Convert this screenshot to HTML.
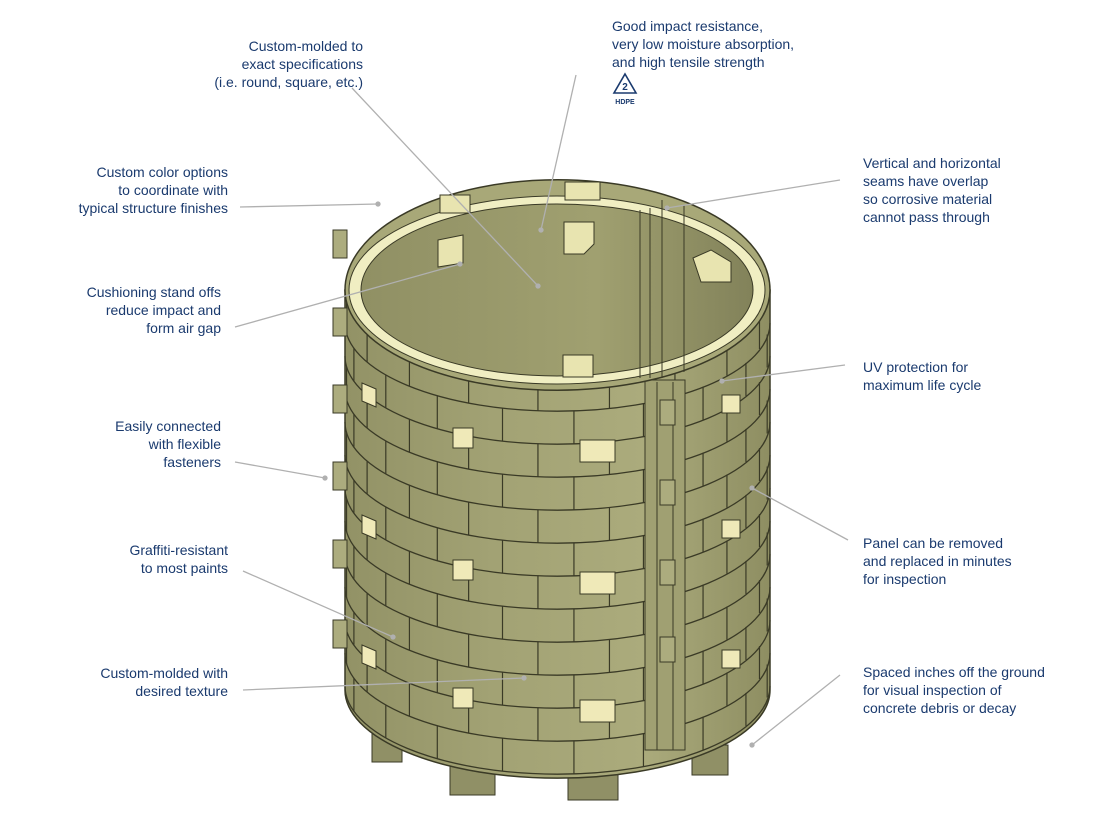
<!DOCTYPE html>
<html><head><meta charset="utf-8"><style>
html,body{margin:0;padding:0;background:#fff;}
body{width:1100px;height:814px;position:relative;overflow:hidden;font-family:"Liberation Sans",sans-serif;}
.t{position:absolute;color:#1a3a6e;font-size:14px;line-height:18px;white-space:nowrap;}
.r{text-align:right;}
svg{position:absolute;left:0;top:0;}
</style></head><body>
<svg id="s" width="1100" height="814" viewBox="0 0 1100 814">
<defs>
<linearGradient id="body" x1="0" x2="1" y1="0" y2="0">
<stop offset="0" stop-color="#929266"/><stop offset="0.35" stop-color="#a2a274"/><stop offset="0.7" stop-color="#abab7c"/><stop offset="1" stop-color="#8e8e62"/>
</linearGradient>
<linearGradient id="inner" x1="0" x2="1" y1="0" y2="0">
<stop offset="0" stop-color="#909064"/><stop offset="0.6" stop-color="#a0a070"/><stop offset="1" stop-color="#82825a"/>
</linearGradient>
</defs>
<g id="feet" fill="#909066" stroke="#3a3a26" stroke-width="1">
<rect x="372" y="712" width="30" height="50"/><rect x="450" y="760" width="45" height="35"/>
<rect x="568" y="770" width="50" height="30"/><rect x="692" y="745" width="36" height="30"/>
</g>
<path d="M345,290 L345,690 A212,88 0 0 0 770,690 L770,290 Z" fill="url(#body)" stroke="#3a3a26" stroke-width="1.5"/>
<g id="rows" fill="none" stroke="#3a3a26" stroke-width="1.3"></g>
<g id="joints" stroke="#3a3a26" stroke-width="1.2"></g>
<rect x="645" y="380" width="40" height="370" fill="#a0a072" stroke="#3a3a26"/>
<line x1="657" y1="382" x2="657" y2="750" stroke="#3a3a26"/><line x1="673" y1="382" x2="673" y2="750" stroke="#3a3a26"/>
<g fill="#acac7e" stroke="#3a3a26">
<rect x="660" y="480" width="15" height="25"/><rect x="660" y="560" width="15" height="25"/><rect x="660" y="637" width="15" height="25"/><rect x="660" y="400" width="15" height="25"/>
</g>
<g fill="#acac7e" stroke="#3a3a26">
<rect x="333" y="230" width="14" height="28"/><rect x="333" y="308" width="14" height="28"/><rect x="333" y="385" width="14" height="28"/><rect x="333" y="462" width="14" height="28"/><rect x="333" y="540" width="14" height="28"/><rect x="333" y="620" width="14" height="28"/>
</g>
<g fill="#efe9b8" stroke="#3a3a26">
<path d="M453,428 h20 v20 h-20z"/><path d="M580,440 h35 v22 h-35z"/><path d="M453,560 h20 v20 h-20z"/><path d="M580,572 h35 v22 h-35z"/><path d="M453,688 h20 v20 h-20z"/><path d="M580,700 h35 v22 h-35z"/>
<path d="M362,383 l14,6 v18 l-14,-6z"/><path d="M362,515 l14,6 v18 l-14,-6z"/><path d="M362,645 l14,6 v18 l-14,-6z"/>
<path d="M722,395 h18 v18 h-18z"/><path d="M722,520 h18 v18 h-18z"/><path d="M722,650 h18 v18 h-18z"/>
</g>
<path d="M345,290 A212,110 0 0 1 770,290 A212,100 0 0 1 345,290 Z" fill="#a8a878" stroke="#3a3a26" stroke-width="1.5"/>
<ellipse cx="557" cy="290" rx="208" ry="94" fill="#f0eec2" stroke="#3a3a26"/>
<ellipse cx="557" cy="290" rx="196" ry="86" fill="url(#inner)" stroke="#3a3a26"/>
<path d="M640,210 L640,378 M650,208 L650,378 M662,200 L662,378 M684,205 L684,372" stroke="#3a3a26" fill="none"/>
<g fill="#e8e4b0" stroke="#3a3a26">
<path d="M564,222 h30 v22 l-10,10 h-20z"/><path d="M563,355 h30 v22 h-30z"/><path d="M693,258 l18,-8 l20,12 v20 h-30 z"/><path d="M438,240 l25,-5 v28 l-25,4z"/><path d="M565,182 h35 v18 h-35z"/><path d="M440,195 h30 v18 h-30z"/>
</g>
<g id="leaders" stroke="#b0b0b0" stroke-width="1.3" fill="#b0b0b0">
<line x1="352" y1="88" x2="538" y2="286"/><circle cx="538" cy="286" r="2"/>
<line x1="576" y1="75" x2="541" y2="230"/><circle cx="541" cy="230" r="2"/>
<line x1="240" y1="207" x2="378" y2="204"/><circle cx="378" cy="204" r="2"/>
<line x1="235" y1="327" x2="460" y2="264"/><circle cx="460" cy="264" r="2"/>
<line x1="840" y1="180" x2="667" y2="208"/><circle cx="667" cy="208" r="2"/>
<line x1="845" y1="365" x2="722" y2="381"/><circle cx="722" cy="381" r="2"/>
<line x1="235" y1="462" x2="325" y2="478"/><circle cx="325" cy="478" r="2"/>
<line x1="848" y1="540" x2="752" y2="488"/><circle cx="752" cy="488" r="2"/>
<line x1="243" y1="571" x2="393" y2="637"/><circle cx="393" cy="637" r="2"/>
<line x1="243" y1="690" x2="524" y2="678"/><circle cx="524" cy="678" r="2"/>
<line x1="840" y1="675" x2="752" y2="745"/><circle cx="752" cy="745" r="2"/>
</g>
<g fill="none" stroke="#1a3a6e" stroke-width="1.6">
<path d="M625,74 L636,93 L614,93 Z"/>
</g>
<text x="625" y="90" font-size="10" font-weight="bold" fill="#1a3a6e" text-anchor="middle" font-family="Liberation Sans">2</text>
<text x="625" y="104" font-size="7" font-weight="bold" fill="#1a3a6e" text-anchor="middle" font-family="Liberation Sans">HDPE</text>
</svg>
<script>
var rows=document.getElementById('rows'),joints=document.getElementById('joints'),ns='http://www.w3.org/2000/svg';
var cx=557,rx=212,ry=88;
for(var i=0;i<13;i++){var y=340+i*33;var p=document.createElementNS(ns,'path');
p.setAttribute('d','M345,'+(y-50)+' A'+rx+','+ry+' 0 0 0 770,'+(y-50));rows.appendChild(p);}
for(var i=0;i<12;i++){var y0=290+i*33;
 for(var k=0;k<9;k++){var th=-1.45+(k+(i%2)*0.5)*0.34; if(th>1.45)continue;
  var x=cx+rx*Math.sin(th);var dy=ry*Math.cos(th);
  var l=document.createElementNS(ns,'line');l.setAttribute('x1',x);l.setAttribute('x2',x);
  l.setAttribute('y1',y0+dy);l.setAttribute('y2',y0+dy+33);joints.appendChild(l);}}
</script>
<div class="t r" style="right:737px;top:37px">Custom-molded to<br>exact specifications<br>(i.e. round, square, etc.)</div>
<div class="t" style="left:612px;top:17px">Good impact resistance,<br>very low moisture absorption,<br>and high tensile strength</div>
<div class="t r" style="right:872px;top:163px">Custom color options<br>to coordinate with<br>typical structure finishes</div>
<div class="t r" style="right:879px;top:283px">Cushioning stand offs<br>reduce impact and<br>form air gap</div>
<div class="t r" style="right:879px;top:417px">Easily connected<br>with flexible<br>fasteners</div>
<div class="t r" style="right:872px;top:541px">Graffiti-resistant<br>to most paints</div>
<div class="t r" style="right:872px;top:664px">Custom-molded with<br>desired texture</div>
<div class="t" style="left:863px;top:154px">Vertical and horizontal<br>seams have overlap<br>so corrosive material<br>cannot pass through</div>
<div class="t" style="left:863px;top:358px">UV protection for<br>maximum life cycle</div>
<div class="t" style="left:863px;top:534px">Panel can be removed<br>and replaced in minutes<br>for inspection</div>
<div class="t" style="left:863px;top:663px">Spaced inches off the ground<br>for visual inspection of<br>concrete debris or decay</div>
</body></html>
